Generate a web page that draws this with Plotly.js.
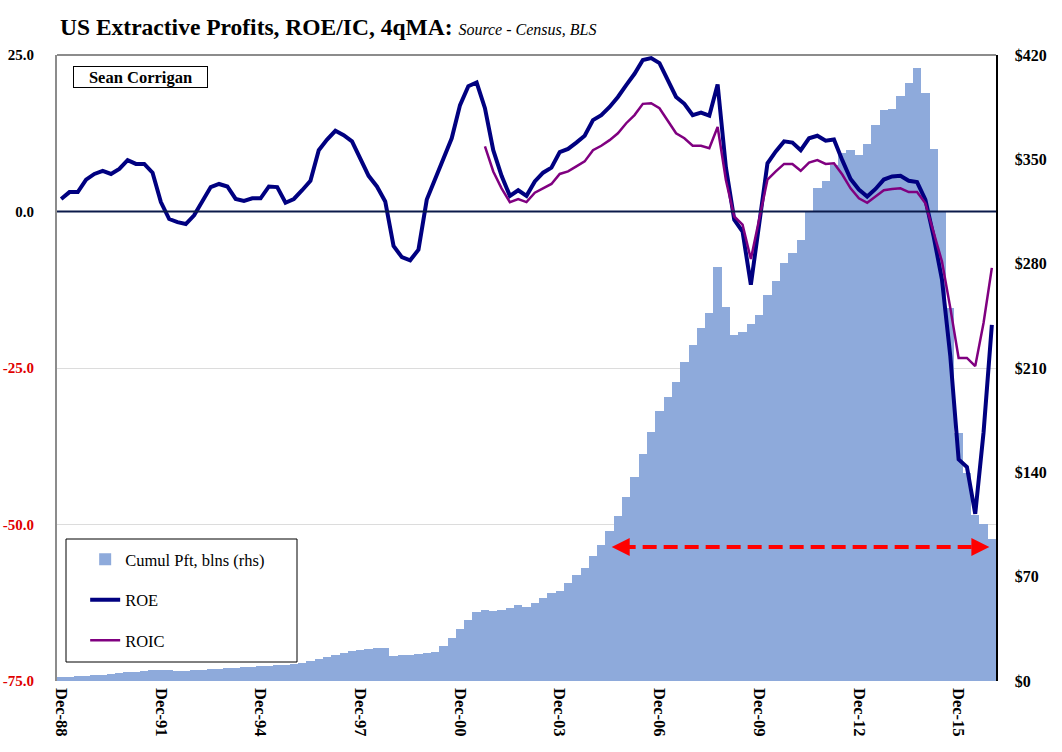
<!DOCTYPE html>
<html>
<head>
<meta charset="utf-8">
<script src="https://cdn.plot.ly/plotly-3.0.1.min.js"></script>
<style>
  html, body { margin: 0; padding: 0; background: #ffffff; }
  #chart { width: 1062px; height: 752px; }
</style>
</head>
<body>
<div id="chart"></div>
<script>
// Quarterly categories, Dec-88 .. Dec-16
const quarters = [
  "Dec-88",
  "Mar-89","Jun-89","Sep-89","Dec-89",
  "Mar-90","Jun-90","Sep-90","Dec-90",
  "Mar-91","Jun-91","Sep-91","Dec-91",
  "Mar-92","Jun-92","Sep-92","Dec-92",
  "Mar-93","Jun-93","Sep-93","Dec-93",
  "Mar-94","Jun-94","Sep-94","Dec-94",
  "Mar-95","Jun-95","Sep-95","Dec-95",
  "Mar-96","Jun-96","Sep-96","Dec-96",
  "Mar-97","Jun-97","Sep-97","Dec-97",
  "Mar-98","Jun-98","Sep-98","Dec-98",
  "Mar-99","Jun-99","Sep-99","Dec-99",
  "Mar-00","Jun-00","Sep-00","Dec-00",
  "Mar-01","Jun-01","Sep-01","Dec-01",
  "Mar-02","Jun-02","Sep-02","Dec-02",
  "Mar-03","Jun-03","Sep-03","Dec-03",
  "Mar-04","Jun-04","Sep-04","Dec-04",
  "Mar-05","Jun-05","Sep-05","Dec-05",
  "Mar-06","Jun-06","Sep-06","Dec-06",
  "Mar-07","Jun-07","Sep-07","Dec-07",
  "Mar-08","Jun-08","Sep-08","Dec-08",
  "Mar-09","Jun-09","Sep-09","Dec-09",
  "Mar-10","Jun-10","Sep-10","Dec-10",
  "Mar-11","Jun-11","Sep-11","Dec-11",
  "Mar-12","Jun-12","Sep-12","Dec-12",
  "Mar-13","Jun-13","Sep-13","Dec-13",
  "Mar-14","Jun-14","Sep-14","Dec-14",
  "Mar-15","Jun-15","Sep-15","Dec-15",
  "Mar-16","Jun-16","Sep-16","Dec-16"
];

// Labelled ticks on the x axis
const xTickLabels = ["Dec-88","Dec-91","Dec-94","Dec-97","Dec-00","Dec-03","Dec-06","Dec-09","Dec-12","Dec-15"];

// Cumulative profit, $ blns (right axis)
const cumulProfit = [
  2.5,
  2.8, 3.1, 3.4, 3.8,
  4.3, 4.8, 5.3, 5.8,
  6.3, 6.8, 7.3, 7.7,
  7.2, 6.9, 7.0, 7.2,
  7.5, 7.8, 8.2, 8.6,
  8.9, 9.2, 9.5, 9.9,
  10.2, 10.6, 10.9, 11.3,
  12.0, 13.2, 14.5, 16.0,
  17.5, 19.0, 20.0, 21.0,
  21.6, 22.0, 22.3, 17.0,
  17.3, 17.6, 18.2, 18.8,
  19.5, 23.7, 29.1, 34.9,
  40.9, 46.1, 47.6, 47.2,
  47.4, 49.2, 50.8, 49.9,
  52.5, 55.5, 58.8, 60.6,
  65.5, 71.1, 75.8, 83.9,
  91.2, 100.6, 110.7, 123.7,
  137.1, 152.3, 166.8, 181.1,
  190.3, 200.6, 213.8, 225.4,
  237.1, 246.7, 277.8, 250.9,
  232.1, 234.4, 239.5, 245.6,
  259.0, 268.6, 280.7, 287.4,
  295.9, 314.9, 330.5, 335.5,
  346.2, 354.0, 356.3, 352.7,
  360.1, 373.0, 383.1, 383.8,
  392.5, 401.0, 411.0, 394.7,
  356.9, 314.9, 250.0, 166.1,
  139.8, 111.4, 105.3, 95.1
];

// ROE, % (left axis)
const roe = [
  2.0,
  3.1, 3.1, 5.1, 6.0,
  6.5, 6.0, 6.8, 8.2,
  7.6, 7.6, 6.2, 1.5,
  -1.2, -1.7, -2.0, -0.6,
  1.6, 3.9, 4.4, 4.0,
  2.0, 1.7, 2.1, 2.1,
  4.0, 3.9, 1.4, 2.0,
  3.4, 4.9, 9.8, 11.5,
  12.9, 12.2, 11.2, 8.5,
  5.7, 4.0, 1.6, -5.5,
  -7.3, -7.8, -6.1, 1.9,
  5.1, 8.4, 11.7, 17.0,
  20.0, 20.6, 16.5, 9.8,
  5.7, 2.5, 3.4, 2.5,
  4.8, 6.2, 7.0, 9.5,
  10.0, 11.0, 12.1, 14.6,
  15.4, 16.7, 18.3, 20.2,
  22.0, 24.2, 24.5, 23.7,
  21.0, 18.3, 17.2, 15.4,
  15.8, 15.3, 20.3, 7.0,
  -1.3, -3.2, -11.7, -2.0,
  7.7, 9.6, 11.2, 11.0,
  9.8, 11.7, 12.1, 11.3,
  11.5, 8.2, 5.2, 3.5,
  2.4, 3.6, 5.1, 5.6,
  5.7, 4.9, 4.7, 1.9,
  -4.0, -10.9, -23.1, -39.6,
  -40.8, -48.3, -35.3, -18.1
];

// ROIC, % (left axis) - series begins Sep-01
const roic = [
  null,
  null, null, null, null,
  null, null, null, null,
  null, null, null, null,
  null, null, null, null,
  null, null, null, null,
  null, null, null, null,
  null, null, null, null,
  null, null, null, null,
  null, null, null, null,
  null, null, null, null,
  null, null, null, null,
  null, null, null, null,
  null, null, 10.4, 6.4,
  3.7, 1.5, 2.0, 1.5,
  3.0, 3.7, 4.4, 6.0,
  6.4, 7.2, 8.0, 9.8,
  10.5, 11.4, 12.5, 14.1,
  15.4, 17.2, 17.3, 16.5,
  14.4, 12.5, 11.7, 10.5,
  10.5, 10.1, 13.5, 5.0,
  -0.8, -2.1, -7.6, -1.1,
  5.1, 6.4, 7.6, 7.6,
  6.5, 7.8, 8.2, 7.6,
  7.7, 5.9, 3.7, 2.1,
  1.4, 2.4, 3.4, 3.6,
  3.7, 3.1, 3.1, 1.3,
  -3.3, -8.0, -15.4, -23.4,
  -23.4, -24.7, -17.8, -9.0
];

// Axis ticks
const leftTickVals = [25, 0, -25, -50, -75];
const leftTickText = ["25.0", "0.0",
  '<span style="color:#e00000">-25.0</span>',
  '<span style="color:#e00000">-50.0</span>',
  '<span style="color:#e00000">-75.0</span>'];
const rightTickVals = [0, 70, 140, 210, 280, 350, 420];
const rightTickText = ["$0", "$70", "$140", "$210", "$280", "$350", "$420"];

// Red highlight arrow span (category index range) and level on left axis
const arrowSpan = [66.25, 111.7];
const arrowLevel = -53.6;

const serif = "Liberation Serif, Times New Roman, serif";

const traces = [
  {
    type: "bar",
    name: "Cumul Pft, blns (rhs)",
    x: quarters,
    y: cumulProfit,
    yaxis: "y",
    marker: { color: "#8eaadb", line: { width: 0 } },
    legendgroup: "a",
    hoverinfo: "x+y"
  },
  {
    type: "scatter",
    mode: "lines",
    name: "ROE",
    x: quarters,
    y: roe,
    yaxis: "y2",
    line: { color: "#000080", width: 4 },
    legendgroup: "b"
  },
  {
    type: "scatter",
    mode: "lines",
    name: "ROIC",
    x: quarters,
    y: roic,
    yaxis: "y2",
    line: { color: "#800080", width: 2.5 },
    connectgaps: false,
    legendgroup: "c"
  }
];

const layout = {
  width: 1062,
  height: 752,
  margin: { l: 57, r: 66, t: 55, b: 71, pad: 0 },
  paper_bgcolor: "#ffffff",
  plot_bgcolor: "#ffffff",
  bargap: 0,
  showlegend: true,
  title: {
    text: '<b>US Extractive Profits, ROE/IC, 4qMA:</b> <i><span style="font-size:16px">Source - Census, BLS</span></i>',
    font: { family: serif, size: 23.5, color: "#000000" },
    x: 60 / 1062,
    xanchor: "left",
    y: 1 - 27 / 752,
    yanchor: "middle"
  },
  xaxis: {
    type: "category",
    range: [-0.5, quarters.length - 0.5],
    tickmode: "array",
    tickvals: xTickLabels,
    ticktext: xTickLabels,
    tickangle: 90,
    tickfont: { family: serif, size: 16.5, color: "#000000", weight: "bold" },
    ticks: "",
    showgrid: false,
    showline: false,
    zeroline: false,
    ticklabelstandoff: 6
  },
  yaxis: {
    side: "right",
    range: [0, 420],
    tickmode: "array",
    tickvals: rightTickVals,
    ticktext: rightTickText,
    tickfont: { family: serif, size: 16, color: "#000000", weight: "bold" },
    ticks: "",
    showgrid: false,
    zeroline: false,
    showline: true,
    linecolor: "#000000",
    linewidth: 1.5,
    ticklabelstandoff: 14
  },
  yaxis2: {
    overlaying: "y",
    side: "left",
    range: [-75, 25],
    tickmode: "array",
    tickvals: leftTickVals,
    ticktext: leftTickText,
    tickfont: { family: serif, size: 15, color: "#000000", weight: "bold" },
    ticks: "",
    showgrid: true,
    gridcolor: "#dcdcdc",
    gridwidth: 1,
    zeroline: false,
    showline: true,
    linecolor: "#8c8c8c",
    linewidth: 2,
    ticklabelstandoff: 18
  },
  legend: {
    x: 0.03,
    xanchor: "left",
    y: 0.222,
    yanchor: "top",
    bgcolor: "rgba(0,0,0,0)",
    borderwidth: 0,
    font: { family: serif, size: 16.5, color: "#000000" },
    tracegroupgap: 16,
    itemwidth: 30
  },
  shapes: [
    // legend frame
    { type: "rect", xref: "paper", yref: "paper",
      x0: (66 - 57) / 939, x1: (297 - 57) / 939,
      y0: (681 - 662) / 626, y1: (681 - 539) / 626,
      line: { color: "#000000", width: 1 }, fillcolor: "#ffffff", layer: "above" },
    // top frame
    { type: "line", xref: "paper", yref: "paper", x0: 0, x1: 1, y0: 1, y1: 1,
      line: { color: "#8c8c8c", width: 2 }, layer: "above" },
    // zero line
    { type: "line", xref: "paper", yref: "y2", x0: 0, x1: 1, y0: 0, y1: 0,
      line: { color: "#0b1a4a", width: 2 }, layer: "above" },
    // dashed red span
    { type: "line", xref: "x", yref: "y2",
      x0: arrowSpan[0] + 1.2, x1: arrowSpan[1] - 1.2, y0: arrowLevel, y1: arrowLevel,
      line: { color: "#ff0000", width: 4, dash: "14px,7px" }, layer: "above" }
  ],
  annotations: [
    { text: "<b>Sean Corrigan</b>", xref: "paper", yref: "paper",
      x: (73 - 57) / 939, xanchor: "left", y: (681 - 66) / 626, yanchor: "top",
      showarrow: false, font: { family: serif, size: 16.5, color: "#000000" },
      bordercolor: "#000000", borderwidth: 1, borderpad: 0, bgcolor: "#ffffff",
      width: 133, height: 20 },
    { text: "", xref: "x", yref: "y2", x: arrowSpan[0], y: arrowLevel,
      ax: 18, ay: 0, showarrow: true, arrowhead: 2, arrowsize: 0.9, arrowwidth: 4,
      arrowcolor: "#ff0000", standoff: 0 },
    { text: "", xref: "x", yref: "y2", x: arrowSpan[1], y: arrowLevel,
      ax: -18, ay: 0, showarrow: true, arrowhead: 2, arrowsize: 0.9, arrowwidth: 4,
      arrowcolor: "#ff0000", standoff: 0 }
  ]
};

Plotly.newPlot("chart", traces, layout, { displayModeBar: false, staticPlot: true });
</script>
</body>
</html>
